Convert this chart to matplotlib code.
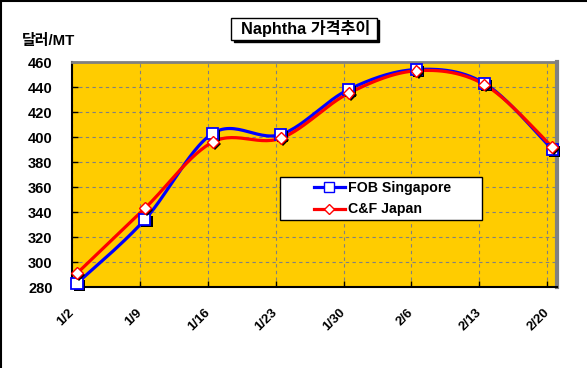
import numpy as np
import matplotlib
matplotlib.use('Agg')
import matplotlib.pyplot as plt
import matplotlib.patheffects as pe
from matplotlib.patches import Rectangle
from matplotlib.lines import Line2D

plt.rcParams['font.family'] = ['Liberation Sans', 'Noto Sans CJK KR', 'DejaVu Sans']
plt.rcParams['font.weight'] = 'bold'

# data
dates = ['1/2', '1/9', '1/16', '1/23', '1/30', '2/6', '2/13', '2/20']
fob_singapore = [283, 334, 403, 402, 438, 454, 443, 390]
cf_japan = [291, 343, 396, 399, 435, 453, 442, 392]
yticks = [280, 300, 320, 340, 360, 380, 400, 420, 440, 460]


def smooth(x, y, n=30):
    # Excel-like smoothed line: bezier segments with catmull-rom control points
    p = np.column_stack([x, y]).astype(float)
    p = np.vstack([p[0], p, p[-1]])
    t = np.linspace(0, 1, n)[:, None]
    out = []
    for i in range(1, len(p) - 2):
        p0, p1, p2, p3 = p[i - 1], p[i], p[i + 1], p[i + 2]
        c1 = p1 + (p2 - p0) / 6
        c2 = p2 - (p3 - p1) / 6
        seg = ((1 - t) ** 3) * p1 + 3 * ((1 - t) ** 2) * t * c1 + 3 * (1 - t) * t ** 2 * c2 + t ** 3 * p2
        out.append(seg)
    out = np.vstack(out)
    return out[:, 0], out[:, 1]


fig = plt.figure(figsize=(5.87, 3.68), dpi=100)
ax = fig.add_axes([0.1227, 0.22, 0.8262, 0.6115])
ax.set_facecolor('#FFCC00')

x = np.arange(len(dates))
shadow = [pe.SimplePatchShadow(offset=(1.5, -1.5), shadow_rgbFace='black', alpha=1), pe.Normal()]

sx, sy = smooth(x, fob_singapore)
ax.plot(sx, sy, color='#0000FF', lw=2.3, zorder=3)
ax.plot(x, fob_singapore, ls='none', marker='s', ms=8, mfc='white', mec='#0000FF',
        mew=1.3, zorder=5, path_effects=shadow, clip_on=False)

sx, sy = smooth(x, cf_japan)
ax.plot(sx, sy, color='#FF0000', lw=2.3, zorder=4)
ax.plot(x, cf_japan, ls='none', marker='D', ms=6, mfc='white', mec='#FF0000',
        mew=1.0, zorder=6, path_effects=shadow, clip_on=False)

off = 0.074
ax.set_xlim(-off, len(dates) - 1 + 0.07)
ax.set_ylim(yticks[0], yticks[-1])
ax.set_xticks(x - off)
ax.set_xticklabels(dates, rotation=45, ha='right', va='center', rotation_mode='anchor',
                   fontsize=9.5, fontweight='bold')
ax.set_yticks(yticks)
ax.set_yticklabels([str(v) for v in yticks], fontsize=10.5, fontweight='bold')
ax.tick_params(axis='x', direction='in', length=4, width=1, pad=17)
ax.tick_params(axis='y', direction='in', length=4, width=1, pad=14)

ax.grid(True, color='#808080', ls=(0, (3, 3)), lw=0.8)
ax.set_axisbelow(True)

for side in ['left', 'bottom']:
    ax.spines[side].set_color('black')
    ax.spines[side].set_linewidth(1.5)
ax.spines['top'].set_color('#808080')
ax.spines['top'].set_linewidth(2)
ax.spines['right'].set_color('#808080')
ax.spines['right'].set_linewidth(3)

# legend: white box drawn separately, entries centred inside it
ax.add_patch(Rectangle((0.429, 0.298), 0.416, 0.191, transform=ax.transAxes,
                       facecolor='white', edgecolor='black', lw=1.0, zorder=7))
handles = [Line2D([], [], color='#0000FF', lw=2.3, marker='s', ms=7, mfc='white', mec='#0000FF'),
           Line2D([], [], color='#FF0000', lw=2.3, marker='D', ms=5.5, mfc='white', mec='#FF0000')]
leg = ax.legend(handles, ['FOB Singapore', 'C&F Japan'], loc='center',
                bbox_to_anchor=(0.64, 0.393), frameon=False,
                prop={'weight': 'bold', 'size': 10.2},
                handlelength=2.2, borderpad=0.2, labelspacing=0.55, handletextpad=0.2)
leg.set_zorder(8)

# title box with shadow
fig.patches.append(Rectangle((233.5 / 587, 1 - 42 / 368), 145 / 587, 22 / 368,
                             transform=fig.transFigure, facecolor='black', edgecolor='black'))
fig.patches.append(Rectangle((231.5 / 587, 1 - 40 / 368), 145 / 587, 22 / 368,
                             transform=fig.transFigure, facecolor='white', edgecolor='black', lw=1))
fig.text(305.5 / 587, 1 - 28.5 / 368, 'Naphtha 가격추이', ha='center', va='center',
         fontsize=11.7, fontweight='bold')

fig.text(22 / 587, 1 - 41 / 368, '달러/MT', ha='left', va='center', fontsize=10.8, fontweight='bold')

# outer frame: top and left only
fig.add_artist(Line2D([0, 1], [0.997, 0.997], transform=fig.transFigure, color='black', lw=1.5))
fig.add_artist(Line2D([0.002, 0.002], [0, 1], transform=fig.transFigure, color='black', lw=1.5))

fig.savefig('out.png', dpi=100)
